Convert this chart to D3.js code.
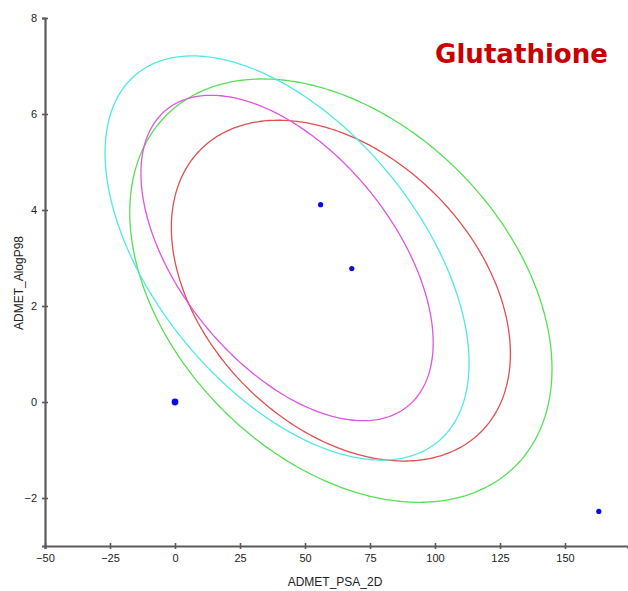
<!DOCTYPE html>
<html>
<head>
<meta charset="utf-8">
<script src="https://cdn.jsdelivr.net/npm/d3@7"></script>
<style>
  body { margin: 0; background: #fff; }
  #chart { width: 628px; height: 591px; }
</style>
</head>
<body>
<div id="chart"></div>
<script>
    // compounds (ADMET_PSA_2D, ADMET_AlogP98)
    const psa   = [0, 56, 68, 163];
    const alogp = [0, 4.11, 2.78, -2.28];

    // confidence ellipses: centre, half extents along x / y, correlation
    const ellName = ['red 95%', 'green 99%', 'magenta 95%', 'cyan 99%'];
    const ellCx   = [63.8, 63.8, 43.1, 43.1];
    const ellCy   = [2.32, 2.32, 3.0, 3.0];
    const ellRx   = [65.2, 81.2, 56.2, 70.0];
    const ellRy   = [3.55, 4.41, 3.39, 4.21];
    const ellR    = [-0.37, -0.37, -0.52, -0.52];

    const xTicks = [-50, -25, 0, 25, 50, 75, 100, 125, 150];
    const yTicks = [-2, 0, 2, 4, 6, 8];

    function draw_ellipse_plot(targetElementId) {
        const margin = { top: 18, right: 0, bottom: 45, left: 45 };
        const W = 628, H = 591;
        const width = W - margin.left - margin.right;
        const height = H - margin.top - margin.bottom;

        const svg = d3.select(`#${targetElementId}`).append("svg")
            .attr("width", W)
            .attr("height", H);

        const g = svg.append("g")
            .attr("transform", `translate(${margin.left},${margin.top})`);

        const x = d3.scaleLinear().domain([-50, -50 + width / 2.6]).range([0, width]);
        const y = d3.scaleLinear().domain([-3, 8]).range([height, 0]);

        const colors = ['#e05050', '#55e055', '#e055e0', '#50e8e8'];

        // ellipses
        const line = d3.line().x(d => x(d[0])).y(d => y(d[1])).curve(d3.curveLinearClosed);
        ellName.forEach((nm, i) => {
            const ts = d3.range(0, 2 * Math.PI, Math.PI / 180);
            const s = Math.sqrt(1 - ellR[i] * ellR[i]);
            const pts = ts.map(t => [
                ellCx[i] + ellRx[i] * Math.cos(t),
                ellCy[i] + ellRy[i] * (ellR[i] * Math.cos(t) + s * Math.sin(t))
            ]);
            g.append("path")
                .datum(pts)
                .attr("d", line)
                .attr("fill", "none")
                .attr("stroke", colors[i])
                .attr("stroke-width", 1.3);
        });

        // points
        const pts = psa.map((v, i) => ({ x: v, y: alogp[i] }));
        g.selectAll(".pt")
            .data(pts)
            .enter()
            .append("circle")
                .attr("class", "pt")
                .attr("cx", d => x(d.x))
                .attr("cy", d => y(d.y))
                .attr("r", d => (d.x === 0 && d.y === 0) ? 3.4 : 2.6)
                .attr("fill", "#0a0ae6");

        const axisColor = '#5a5a5a';

        // x axis
        g.append("g")
            .attr("transform", `translate(0,${height})`)
            .call(d3.axisBottom(x).tickValues(xTicks).tickSize(3).tickPadding(5))
            .call(a => a.select(".domain").attr("stroke", axisColor).attr("stroke-width", 2.2))
            .call(a => a.selectAll(".tick line").attr("stroke", axisColor).attr("stroke-width", 1.6).attr("y1", -3))
            .call(a => a.selectAll("text").attr("fill", "#222").style("font", "11px 'Liberation Sans', Arial, sans-serif"));

        // y axis
        g.append("g")
            .call(d3.axisLeft(y).tickValues(yTicks).tickSize(3).tickPadding(5))
            .call(a => a.select(".domain").attr("stroke", axisColor).attr("stroke-width", 2.2))
            .call(a => a.selectAll(".tick line").attr("stroke", axisColor).attr("stroke-width", 1.6).attr("x1", 3))
            .call(a => a.selectAll("text").attr("fill", "#222").style("font", "11px 'Liberation Sans', Arial, sans-serif"));

        // axis titles
        svg.append("text")
            .attr("x", 335)
            .attr("y", 586)
            .attr("text-anchor", "middle")
            .style("font", "12px 'Liberation Sans', Arial, sans-serif")
            .attr("fill", "#222")
            .text("ADMET_PSA_2D");

        svg.append("text")
            .attr("transform", "translate(23,283) rotate(-90)")
            .attr("text-anchor", "middle")
            .style("font", "12px 'Liberation Sans', Arial, sans-serif")
            .attr("fill", "#222")
            .text("ADMET_AlogP98");

        // title
        svg.append("text")
            .attr("x", 435)
            .attr("y", 63)
            .attr("textLength", 173)
            .attr("lengthAdjust", "spacingAndGlyphs")
            .style("font", "bold 27px 'DejaVu Sans', sans-serif")
            .attr("fill", "#c80000")
            .text("Glutathione");
    }

    draw_ellipse_plot("chart");
</script>
</body>
</html>
